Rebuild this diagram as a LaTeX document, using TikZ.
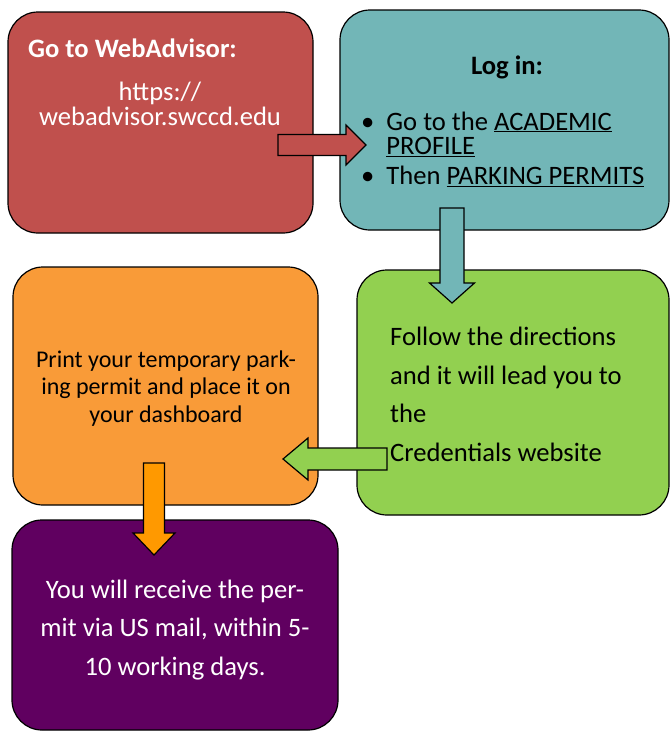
\documentclass[tikz,border=0pt]{standalone}
\usepackage{fontspec}
\setmainfont{Carlito}
\usepackage{xcolor}
\usepackage{tikz}
\usetikzlibrary{calc}

\definecolor{stepred}{HTML}{C0504D}
\definecolor{stepteal}{HTML}{72B6B7}
\definecolor{stepgreen}{HTML}{92D050}
\definecolor{steporange}{HTML}{F99B38}
\definecolor{arroworange}{HTML}{FF9900}
\definecolor{steppurple}{HTML}{600060}

% block arrow: colour, from, to, shaft half width, head half width, head length
\newcommand{\blockarrow}[6]{%
  \coordinate (hb) at ($(#3)!#6!(#2)$);
  \draw[fill=#1, line width=1.2pt]
    ($(#2)!#4!90:(#3)$) -- ($(hb)!#4!90:(#3)$) -- ($(hb)!#5!90:(#3)$) -- (#3)
    -- ($(hb)!#5!-90:(#3)$) -- ($(hb)!#4!-90:(#3)$) -- ($(#2)!#4!-90:(#3)$) -- cycle;
}

\begin{document}
\begin{tikzpicture}[x=1pt, y=-1pt,
    stepbox/.style={rectangle, rounded corners=30pt, draw, line width=1.2pt, inner sep=0pt},
    steptext/.style={font=\fontsize{26.6}{38.5}\selectfont, inner sep=0pt}]
    \useasboundingbox (0,0) rectangle (671,731);

    % Create one box per step
    \node[stepbox, fill=stepred, minimum width=305pt, minimum height=221pt] (web) at (160.5,122.5) {};
    \node[stepbox, fill=stepteal, minimum width=329pt, minimum height=220pt] (login) at (504.5,120) {};
    \node[stepbox, fill=stepgreen, minimum width=312pt, minimum height=245pt] (follow) at (513,392.5) {};
    \node[stepbox, fill=steporange, minimum width=305pt, minimum height=238pt] (print) at (165.5,386) {};
    \node[stepbox, fill=steppurple, minimum width=326pt, minimum height=210pt] (mail) at (175,625) {};

    % Ends of the block arrows
    \coordinate (webout) at (278,145);
    \coordinate (loginin) at (366,145);
    \coordinate (loginout) at (452,208);
    \coordinate (followin) at (452,303);
    \coordinate (followout) at (387,459);
    \coordinate (printin) at (283,459);
    \coordinate (printout) at (154,463);
    \coordinate (mailin) at (154,555);

    % Draw connections
    \blockarrow{stepred}{webout}{loginin}{10.5pt}{20pt}{20pt}
    \blockarrow{stepteal}{loginout}{followin}{12pt}{22.5pt}{20pt}
    \blockarrow{stepgreen}{followout}{printin}{11pt}{21pt}{25pt}
    \blockarrow{arroworange}{printout}{mailin}{10.5pt}{21pt}{22pt}

    % Texts (multi-line nodes sit on their last baseline)
    \node[steptext, anchor=base west, text=white, font=\fontsize{26.6}{30}\selectfont\bfseries] (webtitle) at (28,57) {Go to WebAdvisor:};
    \node[steptext, anchor=base, text=white, align=center, font=\fontsize{26.6}{24.5}\selectfont] (weburl) at (160,125) {https://\\webadvisor.swccd.edu};

    \node[steptext, anchor=base, font=\fontsize{26.6}{30}\selectfont\bfseries] (logintitle) at (507,74) {Log in:};
    \node[steptext, anchor=base west, font=\fontsize{26.6}{24}\selectfont] (loginlist) at (361,130)
        {\begin{tabular}[t]{@{}l@{\hspace{12pt}}l@{}}
          \textbullet & Go to the \underline{ACADEMIC}\\
                      & \underline{PROFILE}\\[4pt]
          \textbullet & Then \underline{PARKING PERMITS}
         \end{tabular}};

    \node[steptext, anchor=base west, align=left] (followtext) at (390,461)
        {Follow the directions\\and it will lead you to\\the\\Credentials website};

    \node[steptext, anchor=base, align=center, font=\fontsize{24}{27.5}\selectfont] (printtext) at (166,422)
        {Print your temporary park-\\ing permit and place it on\\your dashboard};

    \node[steptext, anchor=base, align=center, text=white] (mailtext) at (175,675)
        {You will receive the per-\\mit via US mail, within 5-\\10 working days.};
\end{tikzpicture}
\end{document}
